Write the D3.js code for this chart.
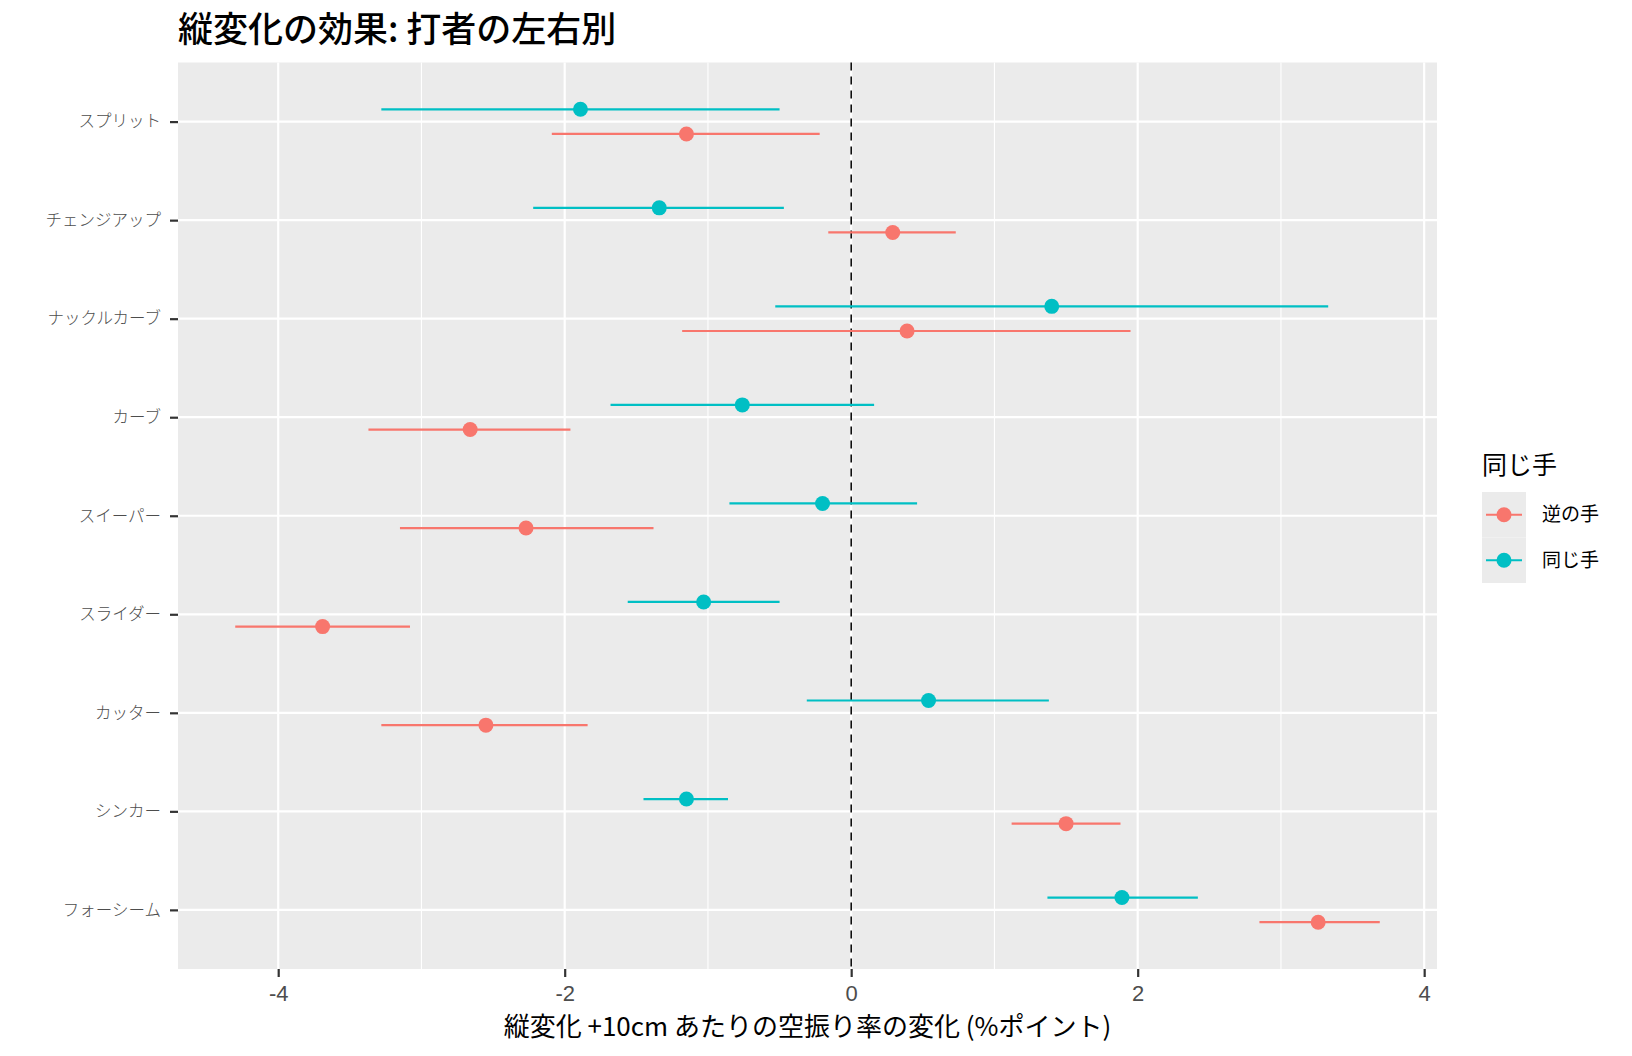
<!DOCTYPE html>
<html>
<head>
<meta charset="utf-8">
<script src="https://cdn.jsdelivr.net/npm/d3@7"></script>
<style>
  body { margin: 0; background: #fff; }
  text { font-family: "Noto Sans CJK JP", "Noto Sans", sans-serif; }
</style>
</head>
<body>
<svg id="chart" width="1632" height="1056"></svg>
<script>
// 球種 (上から順)
const pitches = ["スプリット", "チェンジアップ", "ナックルカーブ", "カーブ", "スイーパー", "スライダー", "カッター", "シンカー", "フォーシーム"];

// 同じ手
const sameEst = [-1.89, -1.34, 1.40, -0.76, -0.20, -1.03, 0.54, -1.15, 1.89];
const sameLo  = [-3.28, -2.22, -0.53, -1.68, -0.85, -1.56, -0.31, -1.45, 1.37];
const sameHi  = [-0.50, -0.47, 3.33, 0.16, 0.46, -0.50, 1.38, -0.86, 2.42];

// 逆の手
const oppEst = [-1.15, 0.29, 0.39, -2.66, -2.27, -3.69, -2.55, 1.50, 3.26];
const oppLo  = [-2.09, -0.16, -1.18, -3.37, -3.15, -4.30, -3.28, 1.12, 2.85];
const oppHi  = [-0.22, 0.73, 1.95, -1.96, -1.38, -3.08, -1.84, 1.88, 3.69];

const xTicks = [-4, -2, 0, 2, 4];
const xMinor = [-3, -1, 1, 3];
const groups = ["逆の手", "同じ手"];
const groupColors = ["#F8766D", "#00BFC4"];

const title = "縦変化の効果: 打者の左右別";
const xTitle = "縦変化 +10cm あたりの空振り率の変化 (%ポイント)";
const legendTitle = "同じ手";

// ---- layout
const panel = { left: 178, right: 1437, top: 62.5, bottom: 969 };

const svg = d3.select("#chart");

const allVals = sameLo.concat(sameHi, oppLo, oppHi);
const lo = d3.min(allVals), hi = d3.max(allVals);
const pad = (hi - lo) * 0.05;

const x = d3.scaleLinear()
    .domain([lo - pad, hi + pad])
    .range([panel.left, panel.right]);

const y = d3.scalePoint()
    .domain(pitches)
    .range([panel.top, panel.bottom])
    .padding(0.6);

const dodge = y.step() * 0.125;

// 行データ
const rows = [];
pitches.forEach((p, i) => {
    rows.push({ pitch: p, group: 1, est: sameEst[i], lo: sameLo[i], hi: sameHi[i], dy: -dodge });
    rows.push({ pitch: p, group: 0, est: oppEst[i], lo: oppLo[i], hi: oppHi[i], dy: dodge });
});

// 背景
svg.append("rect")
    .attr("x", panel.left).attr("y", panel.top)
    .attr("width", panel.right - panel.left)
    .attr("height", panel.bottom - panel.top)
    .attr("fill", "#EBEBEB");

// グリッド
svg.append("g").selectAll("line")
    .data(xMinor).enter().append("line")
    .attr("x1", d => x(d)).attr("x2", d => x(d))
    .attr("y1", panel.top).attr("y2", panel.bottom)
    .attr("stroke", "#fff").attr("stroke-width", 1.1);

svg.append("g").selectAll("line")
    .data(xTicks).enter().append("line")
    .attr("x1", d => x(d)).attr("x2", d => x(d))
    .attr("y1", panel.top).attr("y2", panel.bottom)
    .attr("stroke", "#fff").attr("stroke-width", 2.2);

svg.append("g").selectAll("line")
    .data(pitches).enter().append("line")
    .attr("x1", panel.left).attr("x2", panel.right)
    .attr("y1", d => y(d)).attr("y2", d => y(d))
    .attr("stroke", "#fff").attr("stroke-width", 2.2);

// 0 の破線
svg.append("line")
    .attr("x1", x(0)).attr("x2", x(0))
    .attr("y1", panel.top).attr("y2", panel.bottom)
    .attr("stroke", "#000").attr("stroke-width", 1.5)
    .attr("stroke-dasharray", "8,6");

// 信頼区間
svg.append("g").selectAll("line")
    .data(rows).enter().append("line")
    .attr("x1", d => x(d.lo)).attr("x2", d => x(d.hi))
    .attr("y1", d => y(d.pitch) + d.dy).attr("y2", d => y(d.pitch) + d.dy)
    .attr("stroke", d => groupColors[d.group])
    .attr("stroke-width", 2.2);

// 推定値
svg.append("g").selectAll("circle")
    .data(rows).enter().append("circle")
    .attr("cx", d => x(d.est))
    .attr("cy", d => y(d.pitch) + d.dy)
    .attr("r", 7.5)
    .attr("fill", d => groupColors[d.group]);

// x 軸 (ハイフンのマイナス記号)
const xAxis = svg.append("g")
    .attr("transform", `translate(0,${panel.bottom})`)
    .call(d3.axisBottom(x).tickValues(xTicks).tickSize(8).tickPadding(8).tickFormat(d => String(d)));
xAxis.select(".domain").remove();
xAxis.selectAll(".tick line").attr("stroke", "#333").attr("stroke-width", 2.2);
xAxis.selectAll(".tick text")
    .attr("fill", "#4D4D4D")
    .style("font-size", "22px")
    .style("font-family", "'Liberation Sans', Arial, sans-serif");

// y 軸
const yAxis = svg.append("g")
    .attr("transform", `translate(${panel.left},0)`)
    .call(d3.axisLeft(y).tickSize(8).tickPadding(9));
yAxis.select(".domain").remove();
yAxis.selectAll(".tick line").attr("stroke", "#333").attr("stroke-width", 2.2);
yAxis.selectAll(".tick text")
    .attr("fill", "#4D4D4D")
    .style("font-size", "16.5px")
    .style("font-weight", 300);

// タイトル
svg.append("text")
    .attr("x", panel.left).attr("y", 42)
    .style("font-size", "35px")
    .style("font-weight", 500)
    .attr("fill", "#000")
    .text(title);

svg.append("text")
    .attr("x", (panel.left + panel.right) / 2).attr("y", 1036)
    .attr("text-anchor", "middle")
    .style("font-size", "26px")
    .attr("fill", "#000")
    .text(xTitle);

// 凡例
const legend = svg.append("g").attr("transform", "translate(1482,0)");
legend.append("text")
    .attr("x", 0).attr("y", 474)
    .style("font-size", "25px")
    .attr("fill", "#000")
    .text(legendTitle);

const keyH = 45.5;
const keys = legend.selectAll("g.key")
    .data(groups).enter().append("g")
    .attr("class", "key")
    .attr("transform", (d, i) => `translate(0,${492 + i * keyH})`);

keys.append("rect")
    .attr("width", 44).attr("height", keyH)
    .attr("fill", "#EBEBEB");
keys.append("line")
    .attr("x1", 4).attr("x2", 40)
    .attr("y1", keyH / 2).attr("y2", keyH / 2)
    .attr("stroke", (d, i) => groupColors[i]).attr("stroke-width", 2.2);
keys.append("circle")
    .attr("cx", 22).attr("cy", keyH / 2).attr("r", 7.5)
    .attr("fill", (d, i) => groupColors[i]);
keys.append("text")
    .attr("x", 60).attr("y", keyH / 2)
    .attr("dy", "0.35em")
    .style("font-size", "19px")
    .attr("fill", "#000")
    .text(d => d);
</script>
</body>
</html>
